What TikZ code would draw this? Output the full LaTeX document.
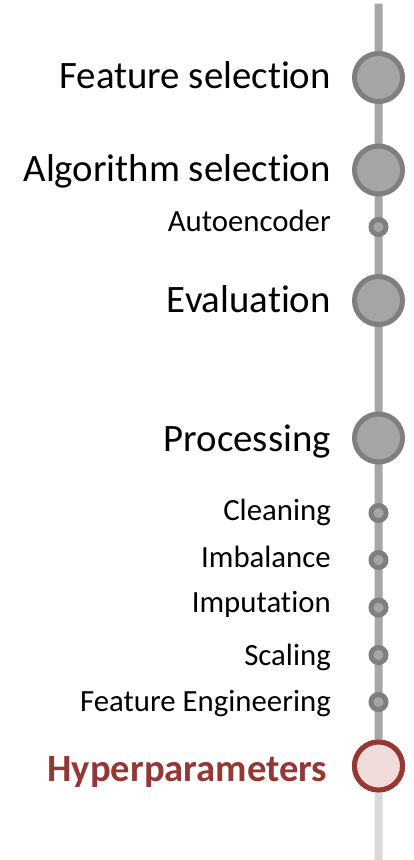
\documentclass[tikz,border=0pt]{standalone}
\usepackage{fontspec}
\setmainfont{Carlito}[Ligatures=NoCommon]
\definecolor{spine}{HTML}{A6A6A6}
\definecolor{spinelight}{HTML}{D9D9D9}
\definecolor{ringgray}{HTML}{7F7F7F}
\definecolor{fillgray}{HTML}{A5A5A5}
\definecolor{ringred}{HTML}{953735}
\definecolor{fillred}{HTML}{F2DCDB}
\begin{document}
\begin{tikzpicture}[x=1pt,y=-1pt,
  bigdot/.style={circle,draw=ringgray,fill=fillgray,line width=5pt,minimum size=48pt,inner sep=0pt},
  smalldot/.style={circle,draw=ringgray,fill=fillgray,line width=5pt,minimum size=15pt,inner sep=0pt},
  reddot/.style={circle,draw=ringred,fill=fillred,line width=5pt,minimum size=48pt,inner sep=0pt},
  biglabel/.style={anchor=base east,inner sep=0pt,font=\fontsize{38.8}{42}\selectfont},
  smalllabel/.style={anchor=base east,inner sep=0pt,font=\fontsize{30.8}{33}\selectfont},
  redlabel/.style={anchor=base east,inner sep=0pt,text=ringred,font=\bfseries\fontsize{38.6}{42}\selectfont}]
\useasboundingbox (0,0) rectangle (414,860);

% timeline spine
\coordinate (top) at (378.7,3.5);
\coordinate (bottom) at (378.7,860);
\node[reddot] (hyper) at (378.5,766) {};
\draw[spinelight,line width=8pt] (hyper.center) -- (bottom);
\draw[spine,line width=8pt] (top) -- (hyper.north);

% milestones
\node[bigdot] (fs) at (378.5,77.5) {};
\node[bigdot] (as) at (378.5,170) {};
\node[smalldot] (ae) at (378.5,227) {};
\node[bigdot] (ev) at (378.5,300.5) {};
\node[bigdot] (pr) at (378.5,438) {};
\node[smalldot] (cl) at (378.5,513) {};
\node[smalldot] (im) at (378.5,560) {};
\node[smalldot] (ip) at (378.5,607.5) {};
\node[smalldot] (sc) at (378.5,655) {};
\node[smalldot] (fe) at (378.5,702) {};
\node[reddot] at (hyper) {};

% labels
\node[biglabel] (tfs) at (331,88.5) {Feature selection};
\node[biglabel] (tas) at (331,181) {Algorithm selection};
\node[smalllabel] (tae) at (331,231) {Autoencoder};
\node[biglabel] (tev) at (331,312.5) {Evaluation};
\node[biglabel] (tpr) at (331,451) {Processing};
\node[smalllabel] (tcl) at (331,520) {Cleaning};
\node[smalllabel] (tim) at (331,567) {Imbalance};
\node[smalllabel] (tip) at (331,612) {Imputation};
\node[smalllabel] (tsc) at (331,665) {Scaling};
\node[smalllabel] (tfe) at (331,711) {Feature Engineering};
\node[redlabel] (thy) at (327.5,781.5) {Hyperparameters};
\end{tikzpicture}
\end{document}
